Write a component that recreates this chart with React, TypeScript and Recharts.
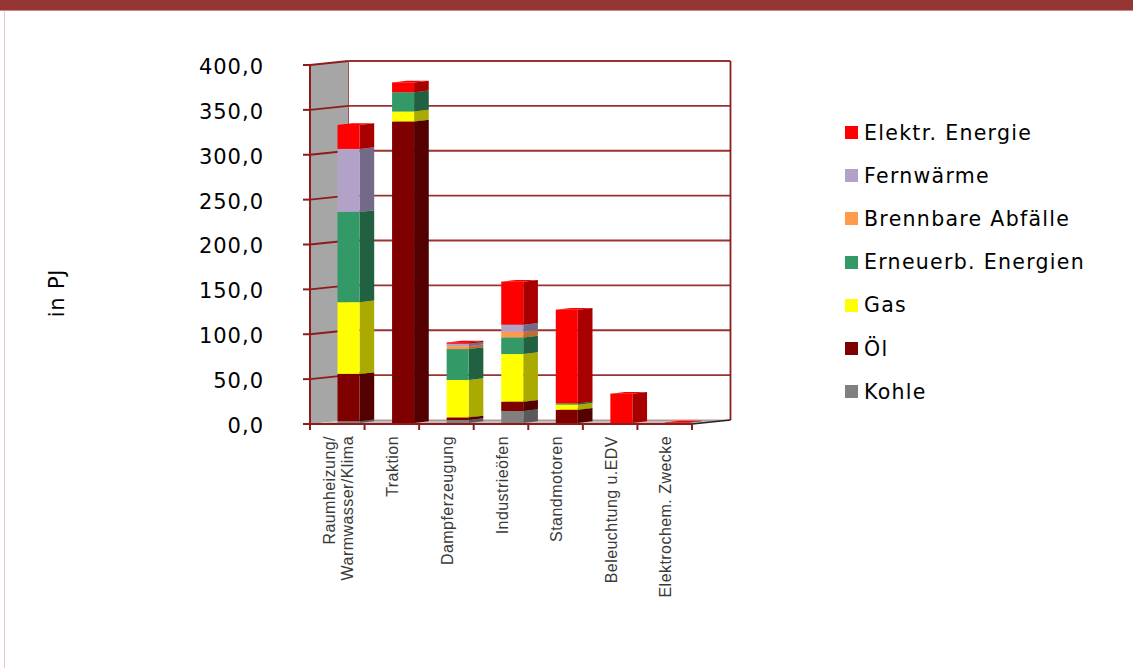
import React from 'react';
import { BarChart, Bar, XAxis, YAxis, Legend, usePlotArea } from 'recharts';

const categories = [
  ['Raumheizung/', 'Warmwasser/Klima'],
  ['Traktion'],
  ['Dampferzeugung'],
  ['Industrieöfen'],
  ['Standmotoren'],
  ['Beleuchtung u.EDV'],
  ['Elektrochem. Zwecke'],
];
const yTicks = [0, 50, 100, 150, 200, 250, 300, 350, 400];

const kohle = [2, 0, 3.3, 13.4, 0, 0, 0];
const oel = [52.7, 336, 3, 10.4, 14.8, 0, 0];
const gas = [79.9, 11, 41.6, 53, 5.6, 0, 0];
const erneuerbar = [100.6, 21.5, 34.5, 18.6, 1.5, 0, 0];
const abfaelle = [0, 0, 3.3, 6.3, 0, 0, 0];
const fernwaerme = [70.2, 0, 2.6, 7.8, 0, 0, 0];
const elektr = [26.7, 11, 1.5, 48, 104.4, 32.7, 0.6];

// stacking order, bottom to top
const series = [
  { name: 'Kohle', values: kohle, color: '#808080', side: '#5a5a5a' },
  { name: 'Öl', values: oel, color: '#800000', side: '#520000' },
  { name: 'Gas', values: gas, color: '#ffff00', side: '#aaaa00' },
  { name: 'Erneuerb. Energien', values: erneuerbar, color: '#339966', side: '#216040' },
  { name: 'Brennbare Abfälle', values: abfaelle, color: '#ff9a4d', side: '#b87038' },
  { name: 'Fernwärme', values: fernwaerme, color: '#b3a2c7', side: '#75698a' },
  { name: 'Elektr. Energie', values: elektr, color: '#ff0000', side: '#a80000' },
];

const rows = categories.map((lines, i) => {
  const row: Record<string, any> = { category: lines.join(' ') };
  series.forEach((s) => {
    row[s.name] = s.values[i];
  });
  return row;
});

const FONT = '"DejaVu Sans", sans-serif';
const LINE = '#8f1c1c';

// fake 3D: how far the back wall sits behind the front plane
const WALL_DX = 38.5;
const WALL_DY = 4;
// columns stand a little way into the floor
const BAR_DX = 11.5;
const BAR_DY = 1;
const BAR_DEPTH = 14.7;
const BAR_RISE = 1.7;

function Frame() {
  const plot = usePlotArea();
  if (!plot) return null;
  const { x, y, width, height } = plot;
  const bottom = y + height;
  const right = x + width;
  const band = width / categories.length;
  const yOf = (t: number) => bottom - (t / 400) * height;

  return (
    <g>
      <polygon
        points={`${x},${y} ${x + WALL_DX},${y - WALL_DY} ${x + WALL_DX},${bottom - WALL_DY} ${x},${bottom}`}
        fill="#a6a6a6"
      />
      <polygon
        points={`${x},${bottom} ${x + WALL_DX},${bottom - WALL_DY} ${right + WALL_DX},${bottom - WALL_DY} ${right},${bottom}`}
        fill="#c0c0c0"
      />
      {yTicks.map((t) => (
        <g key={t}>
          <line
            x1={x + WALL_DX}
            x2={right + WALL_DX}
            y1={yOf(t) - WALL_DY}
            y2={yOf(t) - WALL_DY}
            stroke={LINE}
            strokeWidth={t === 0 ? 1 : 1.8}
            strokeOpacity={t === 0 ? 0.5 : 0.9}
          />
          {t > 0 && <line x1={x} x2={x + WALL_DX} y1={yOf(t)} y2={yOf(t) - WALL_DY} stroke={LINE} strokeWidth={1.8} />}
        </g>
      ))}
      <line x1={x + WALL_DX} x2={x + WALL_DX} y1={y - WALL_DY} y2={bottom - WALL_DY} stroke={LINE} strokeWidth={1} strokeOpacity={0.7} />
      <line x1={right + WALL_DX} x2={right + WALL_DX} y1={y - WALL_DY} y2={bottom - WALL_DY} stroke={LINE} strokeWidth={1.8} />
      <line x1={right} x2={right + WALL_DX} y1={bottom} y2={bottom - WALL_DY} stroke="#222222" strokeWidth={1.4} />
      <line x1={x} x2={x} y1={y} y2={bottom + 6} stroke={LINE} strokeWidth={2} />
      <line x1={x} x2={right} y1={bottom} y2={bottom} stroke={LINE} strokeWidth={2} />
      {categories.map((_, i) => (
        <line key={i} x1={x + band * (i + 1)} x2={x + band * (i + 1)} y1={bottom} y2={bottom + 6} stroke={LINE} strokeWidth={2} />
      ))}
    </g>
  );
}

function Column(props: any) {
  const { x, y, width, height, fill, side } = props;
  if (!height || height <= 0) return null;
  const l = x + BAR_DX;
  const r = l + width;
  const t = y - BAR_DY;
  const b = t + height;
  return (
    <g>
      <polygon points={`${l},${t} ${l + BAR_DEPTH},${t - BAR_RISE} ${r + BAR_DEPTH},${t - BAR_RISE} ${r},${t}`} fill={fill} />
      <polygon points={`${r},${t} ${r + BAR_DEPTH},${t - BAR_RISE} ${r + BAR_DEPTH},${b - BAR_RISE} ${r},${b}`} fill={side} />
      <rect x={l} y={t} width={width} height={height} fill={fill} />
    </g>
  );
}

function CategoryTick({ x, y, payload, index }: any) {
  const lines = categories[index] ?? [payload.value];
  return (
    <text
      transform={`translate(${x + 1},${y}) rotate(-90)`}
      textAnchor="end"
      fontFamily='"Liberation Sans", sans-serif'
      fontSize={16}
      letterSpacing={0.45}
      fill="#3a3a3a"
    >
      {lines.map((line: string, i: number) => (
        <tspan key={i} x={0} y={(i - (lines.length - 1) / 2) * 17.5 + 5.5}>
          {line}
        </tspan>
      ))}
    </text>
  );
}

function LegendList() {
  return (
    <div style={{ fontFamily: FONT, fontSize: 20.5, letterSpacing: 1.3, color: '#000' }}>
      {[...series].reverse().map((s) => (
        <div key={s.name} style={{ height: 43.2, display: 'flex', alignItems: 'center', whiteSpace: 'nowrap' }}>
          <span style={{ width: 13, height: 13, marginRight: 6, background: s.color, display: 'inline-block', flex: 'none' }} />
          {s.name}
        </div>
      ))}
    </div>
  );
}

function UnitLabel() {
  return (
    <text transform="translate(64,293) rotate(-90)" textAnchor="middle" fontFamily={FONT} fontSize={21} letterSpacing={0.8} fill="#000">
      in PJ
    </text>
  );
}

export default function App() {
  return (
    <div style={{ position: 'absolute', left: 0, top: 0, width: 1133, height: 668, background: '#fff', overflow: 'hidden' }}>
      <div style={{ position: 'absolute', left: 0, top: 0, width: 1133, height: 10, background: '#963634', borderBottom: '1px solid #c98a88' }} />
      <div style={{ position: 'absolute', left: 4, top: 11, width: 1, height: 657, background: '#eec6c6' }} />
      <BarChart
        width={1133}
        height={668}
        data={rows}
        barSize={22}
        margin={{ top: 65, right: 441, bottom: 44, left: 200 }}
        style={{ position: 'absolute', left: 0, top: 0 }}
      >
        <Frame />
        <XAxis dataKey="category" height={200} interval={0} axisLine={false} tickLine={false} tickMargin={6} tick={<CategoryTick />} />
        <YAxis
          width={110}
          domain={[0, 400]}
          ticks={yTicks}
          interval={0}
          axisLine={{ stroke: LINE, strokeWidth: 2 }}
          tickLine={{ stroke: LINE, strokeWidth: 2 }}
          tickSize={7}
          tickMargin={39}
          tick={{ fontFamily: FONT, fontSize: 21, letterSpacing: 1, fill: '#000', dy: 1.5 }}
          tickFormatter={(v: number) => v.toFixed(1).replace('.', ',')}
        />
        <UnitLabel />
        {series.map((s) => (
          <Bar
            key={s.name}
            dataKey={s.name}
            stackId="energy"
            fill={s.color}
            isAnimationActive={false}
            shape={(p: any) => <Column {...p} side={s.side} />}
          />
        ))}
        <Legend
          layout="vertical"
          align="left"
          verticalAlign="top"
          content={<LegendList />}
          wrapperStyle={{ left: 845, top: 111, width: 0 }}
        />
      </BarChart>
    </div>
  );
}
